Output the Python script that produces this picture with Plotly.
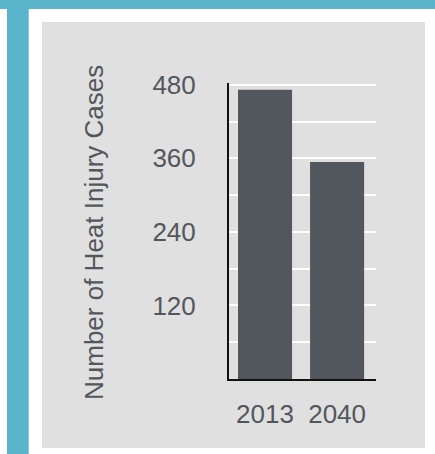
import plotly.graph_objects as go

# Data
years = ["2013", "2040"]
cases = [472, 354]
ytick_vals = [60, 120, 180, 240, 300, 360, 420, 480]
ytick_text = ["", "120", "", "240", "", "360", "", "480"]
y_title = "Number of Heat Injury Cases"

W, H = 435, 454
L, R, T, B = 229, 59, 83, 75

BLUE = "#59b4cc"
PANEL = "#e0e0e0"
BAR = "#52565d"
TXT = "#53575d"
FONT = "Liberation Sans, Arial, Helvetica, sans-serif"

fig = go.Figure()
fig.add_trace(go.Bar(
    x=years, y=cases, width=0.75,
    marker=dict(color=BAR, line=dict(width=0)),
    hoverinfo="skip",
))

def px_to_paper_x(px):
    return (px - L) / (W - L - R)

def px_to_paper_y(py):
    return 1 - (py - T) / (H - T - B)

shapes = [
    # top blue band
    dict(type="rect", xref="paper", yref="paper",
         x0=px_to_paper_x(0), x1=px_to_paper_x(W), y0=px_to_paper_y(0), y1=px_to_paper_y(9),
         fillcolor=BLUE, line=dict(width=0), layer="below"),
    # left blue bar
    dict(type="rect", xref="paper", yref="paper",
         x0=px_to_paper_x(7), x1=px_to_paper_x(28.7), y0=px_to_paper_y(0), y1=px_to_paper_y(H),
         fillcolor=BLUE, line=dict(width=0), layer="below"),
    # gray panel
    dict(type="rect", xref="paper", yref="paper",
         x0=px_to_paper_x(42), x1=px_to_paper_x(425), y0=px_to_paper_y(22), y1=px_to_paper_y(448),
         fillcolor=PANEL, line=dict(width=0), layer="below"),
]

fig.update_layout(
    width=W, height=H,
    margin=dict(l=L, r=R, t=T, b=B, pad=0),
    paper_bgcolor="white",
    plot_bgcolor="rgba(0,0,0,0)",
    showlegend=False,
    shapes=shapes,
    font=dict(family=FONT, color=TXT, size=26),
    xaxis=dict(
        type="category", range=[-0.5, 1.54],
        showgrid=False, zeroline=False,
        showline=True, linecolor="#111111", linewidth=2,
        ticks="", ticklabelstandoff=11,
        tickfont=dict(size=26, color=TXT, family=FONT),
        fixedrange=True,
    ),
    yaxis=dict(
        range=[0, 483],
        tickvals=ytick_vals, ticktext=ytick_text,
        showgrid=True, gridcolor="white", gridwidth=2,
        zeroline=False,
        showline=True, linecolor="#111111", linewidth=2,
        ticks="", ticklabelstandoff=26,
        tickfont=dict(size=26, color=TXT, family=FONT),
        fixedrange=True,
    ),
    annotations=[dict(
        text=y_title, xref="paper", yref="paper",
        x=px_to_paper_x(94), y=px_to_paper_y(233),
        xanchor="center", yanchor="middle",
        textangle=-90, showarrow=False,
        font=dict(size=26, color=TXT, family=FONT),
    )],
)

fig.write_html("out.html", config={"displayModeBar": False})
